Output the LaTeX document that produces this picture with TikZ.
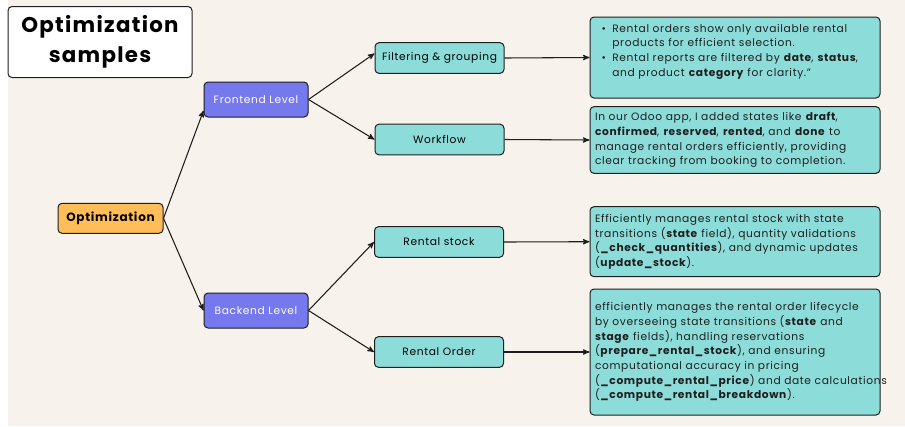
\documentclass[tikz,border=0pt]{standalone}
\usepackage{fontspec}
\setmainfont{Poppins}[LetterSpace=6]
\definecolor{creamback}{RGB}{247,243,236}
\definecolor{orangeroot}{RGB}{255,189,89}
\definecolor{purplelevel}{RGB}{118,121,237}
\definecolor{tealtopic}{RGB}{140,220,218}
\definecolor{inkline}{RGB}{30,30,30}
\usetikzlibrary{positioning, arrows}
\newcommand{\bulletmark}{\hspace*{5pt}\makebox[8pt][l]{\textbullet}}
\newcommand{\bulletgap}{\hspace*{13pt}}
\tikzset{
>=stealth', % small bold arrow heads
box/.style={draw=inkline, line width=0.75pt, rounded corners=3pt}, % common frame of every node
heading/.style={box, fill=white, minimum width=138pt, minimum height=53.25pt, align=center, font=\fontsize{16}{22.5}\selectfont\bfseries},
root/.style={box, fill=orangeroot, minimum width=78.75pt, minimum height=22.5pt, font=\fontsize{9}{11}\selectfont\bfseries},
hub/.style={box, fill=purplelevel, text=white, minimum width=78pt, minimum height=26.25pt, font=\fontsize{8}{10}\selectfont},
topic/.style={box, fill=tealtopic, minimum width=96.75pt, minimum height=23pt, font=\fontsize{8}{10}\selectfont},
note/.style={box, fill=tealtopic, text=inkline, text width=210pt, inner xsep=3.75pt, align=left, font=\fontsize{8}{11}\selectfont},
link/.style={->, draw=inkline, line width=0.8pt}
}

\begin{document}
\begin{tikzpicture}[x=0.75pt, y=-0.75pt]
\useasboundingbox (0,0) rectangle (905,426);
\fill[creamback] (8,0) rectangle (905,426);

\node[heading] (title) at (100,42) {Optimization\\samples};

\node[root] (optim) at (110.5,218.3) {Optimization};

\node[hub] (front) at (256,99.5) {Frontend Level};
\node[hub] (back) at (256,310.5) {Backend Level};

\node[topic] (filter) at (439.5,58) {Filtering \& grouping};
\node[topic] (workflow) at (439.5,139.5) {Workflow};
\node[topic] (stock) at (439,242) {Rental stock};
\node[topic] (order) at (439,352) {Rental Order};

\node[note, minimum height=60.75pt] (filternote) at (735,57.5) {%
\bulletmark Rental orders show only available rental\\
\bulletgap products for efficient selection.\\
\bulletmark Rental reports are filtered by \textbf{date}, \textbf{status},\\
\bulletgap and product \textbf{category} for clarity."\\
\mbox{}};
\node[note, minimum height=50pt] (flownote) at (735,140) {%
In our Odoo app, I added states like \textbf{draft},\\
\textbf{confirmed}, \textbf{reserved}, \textbf{rented}, and \textbf{done} to\\
manage rental orders efficiently, providing\\
clear tracking from booking to completion.};
\node[note, minimum height=52.5pt] (stocknote) at (735,241.7) {%
Efficiently manages rental stock with state\\
transitions (\textbf{state} field), quantity validations\\
(\textbf{\_check\_quantities}), and dynamic updates\\
(\textbf{update\_stock}).};
\node[note, minimum height=94.5pt] (ordernote) at (735,352) {%
efficiently manages the rental order lifecycle\\
by overseeing state transitions (\textbf{state} and\\
\textbf{stage} fields), handling reservations\\
(\textbf{prepare\_rental\_stock}), and ensuring\\
computational accuracy in pricing\\
\mbox{(\textbf{\_compute\_rental\_price}) and date calculations}\\
(\textbf{\_compute\_rental\_breakdown}).};

\draw[link] (optim.east) -- (front.192);
\draw[link] (optim.east) -- (back.west);
\draw[link] (front.east) -- (filter.176);
\draw[link] (front.east) -- (workflow.west);
\draw[link] (back.east) -- (stock.west);
\draw[link] (back.east) -- (order.west);
\draw[link] (filter.east) -- (filternote.west);
\draw[link] (workflow.east) -- (flownote.west);
\draw[link] (stock.east) -- (stocknote.west);
\draw[link] (order.east) -- (ordernote.west);
\end{tikzpicture}
\end{document}
